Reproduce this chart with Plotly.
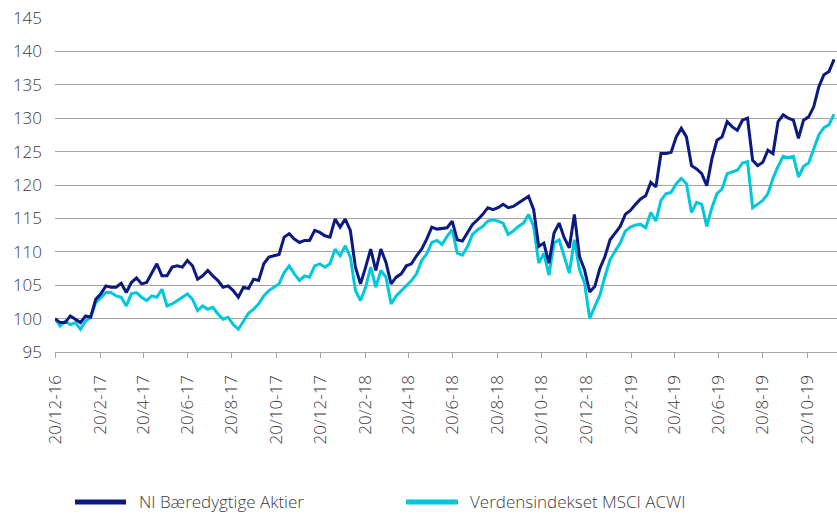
import pandas as pd
import plotly.graph_objects as go

# Weekly readings (every 7 days from 20 Dec 2016)
start_date = "2016-12-20"
ni_values = [
    100.0, 99.4, 99.4, 100.4, 99.9, 99.4, 100.4, 100.2, 102.9, 103.7,
    104.9, 104.7, 104.7, 105.3, 103.9, 105.4, 106.1, 105.2, 105.4, 106.9,
    108.2, 106.4, 106.4, 107.7, 107.9, 107.7, 108.7, 107.9, 105.9, 106.4,
    107.2, 106.4, 105.7, 104.7, 104.9, 104.2, 103.2, 104.7, 104.5, 105.9,
    105.7, 108.2, 109.2, 109.4, 109.6, 112.2, 112.7, 111.9, 111.4, 111.7,
    111.7, 113.2, 112.9, 112.4, 112.2, 114.9, 113.7, 114.9, 113.2, 107.7,
    105.2, 107.7, 110.4, 107.2, 110.4, 108.4, 105.2, 106.2, 106.7, 107.9,
    108.2, 109.4, 110.4, 111.9, 113.7, 113.4, 113.5, 113.6, 114.6, 111.8,
    111.6, 112.8, 114.1, 114.8, 115.6, 116.6, 116.3, 116.6, 117.1, 116.6,
    116.8, 117.3, 117.8, 118.3, 116.3, 110.8, 111.3, 108.3, 112.8, 114.3,
    112.1, 110.6, 115.6, 109.3, 107.3, 104.0, 104.8, 107.5, 109.3, 111.8,
    112.8, 113.8, 115.6, 116.2, 117.1, 117.9, 118.4, 120.4, 119.7, 124.7,
    124.7, 124.9, 127.2, 128.5, 127.2, 122.9, 122.4, 121.7, 119.9, 123.9,
    126.7, 127.2, 129.5, 128.7, 128.2, 129.7, 130.0, 123.7, 122.9, 123.4,
    125.2, 124.7, 129.5, 130.5, 130.0, 129.7, 127.0, 129.7, 130.2, 131.7,
    134.7, 136.5, 137.0, 138.8,
]
acwi_values = [
    100.0, 98.9, 99.6, 99.1, 99.4, 98.4, 99.6, 100.2, 102.4, 103.2,
    103.9, 103.9, 103.4, 103.2, 101.9, 103.7, 103.9, 103.2, 102.7, 103.4,
    103.2, 104.4, 101.9, 102.2, 102.7, 103.2, 103.7, 102.9, 101.2, 101.9,
    101.4, 101.7, 100.7, 99.9, 100.2, 99.1, 98.4, 99.6, 100.8, 101.4,
    102.2, 103.4, 104.2, 104.7, 105.2, 106.9, 107.9, 106.7, 105.7, 106.4,
    106.2, 107.9, 108.2, 107.7, 108.2, 110.4, 109.4, 110.9, 109.2, 104.2,
    102.7, 104.7, 107.7, 104.7, 107.2, 106.2, 102.2, 103.4, 104.2, 104.9,
    105.7, 106.7, 108.7, 109.7, 111.4, 111.7, 111.1, 112.3, 113.3, 109.8,
    109.5, 110.8, 112.6, 113.3, 113.8, 114.6, 114.8, 114.6, 114.3, 112.6,
    113.1, 113.8, 114.3, 115.6, 113.8, 108.3, 109.8, 106.5, 111.3, 111.8,
    109.3, 106.8, 111.8, 107.3, 105.3, 100.0, 101.8, 103.5, 106.3, 108.8,
    110.1, 111.3, 113.1, 113.7, 114.0, 114.1, 113.6, 115.9, 114.6, 117.7,
    118.7, 118.9, 120.2, 121.0, 120.2, 115.9, 117.4, 117.1, 113.8, 116.6,
    118.7, 119.4, 121.7, 122.0, 122.2, 123.3, 123.5, 116.6, 117.1, 117.7,
    118.7, 121.0, 122.8, 124.3, 124.1, 124.3, 121.2, 122.8, 123.3, 125.5,
    127.5, 128.6, 129.0, 130.6,
]
series_names = ["NI Bæredygtige Aktier", "Verdensindekset MSCI ACWI"]
tick_dates = [
    "2016-12-20", "2017-02-20", "2017-04-20", "2017-06-20", "2017-08-20",
    "2017-10-20", "2017-12-20", "2018-02-20", "2018-04-20", "2018-06-20",
    "2018-08-20", "2018-10-20", "2018-12-20", "2019-02-20", "2019-04-20",
    "2019-06-20", "2019-08-20", "2019-10-20",
]
tick_labels = [f"{pd.Timestamp(d).day}/{pd.Timestamp(d).month}-{pd.Timestamp(d).year % 100:02d}" for d in tick_dates]
y_ticks = [95, 100, 105, 110, 115, 120, 125, 130, 135, 140, 145]

dates = pd.date_range(start_date, periods=len(ni_values), freq="7D")

DARK = "#0a1a82"
CYAN = "#00c8dc"
GRID = "#aaa5a0"
TEXT = "#3c3c3c"
FONT = "Open Sans"

fig = go.Figure()
fig.add_trace(go.Scatter(x=dates, y=acwi_values, mode="lines", name=series_names[1],
                         line=dict(color=CYAN, width=3), showlegend=False))
fig.add_trace(go.Scatter(x=dates, y=ni_values, mode="lines", name=series_names[0],
                         line=dict(color=DARK, width=3), showlegend=False))

fig.update_layout(
    width=837, height=514,
    margin=dict(l=55, r=0, t=18, b=162, autoexpand=False),
    paper_bgcolor="white", plot_bgcolor="white",
    font=dict(family=FONT, size=17, color=TEXT, weight=300),
)
fig.update_xaxes(
    range=["2016-12-20", "2019-11-30"], automargin=False,
    tickvals=tick_dates, ticktext=tick_labels, tickangle=-90,
    ticks="outside", ticklen=5, tickcolor=GRID, tickwidth=1.3,
    showline=True, linecolor=GRID, linewidth=1.3,
    showgrid=False, zeroline=False,
    ticklabelstandoff=10,
    tickfont=dict(family=FONT, size=17, color=TEXT, weight=300),
)
fig.update_yaxes(
    range=[95, 145], tickvals=y_ticks, automargin=False,
    showgrid=True, gridcolor=GRID, gridwidth=1.3,
    zeroline=False, showline=False, ticks="",
    ticklabelstandoff=12,
    tickfont=dict(family=FONT, size=17, color=TEXT, weight=300),
)

# manual legend
legend_items = [(series_names[0], DARK, 0.0256, 0.0908, 0.1049),
                (series_names[1], CYAN, 0.4488, 0.5153, 0.5281)]
ly = -0.449
for name, col, x0, x1, xt in legend_items:
    fig.add_shape(type="line", xref="paper", yref="paper", x0=x0, x1=x1, y0=ly, y1=ly,
                  line=dict(color=col, width=5))
    fig.add_annotation(xref="paper", yref="paper", x=xt, y=ly, text=name, showarrow=False,
                       xanchor="left", yanchor="middle",
                       font=dict(family=FONT, size=17, color=TEXT, weight=300))

fig.write_html("out.html", config={"displayModeBar": False},
               post_script="document.body.style.margin='0';document.body.style.overflow='hidden';")
